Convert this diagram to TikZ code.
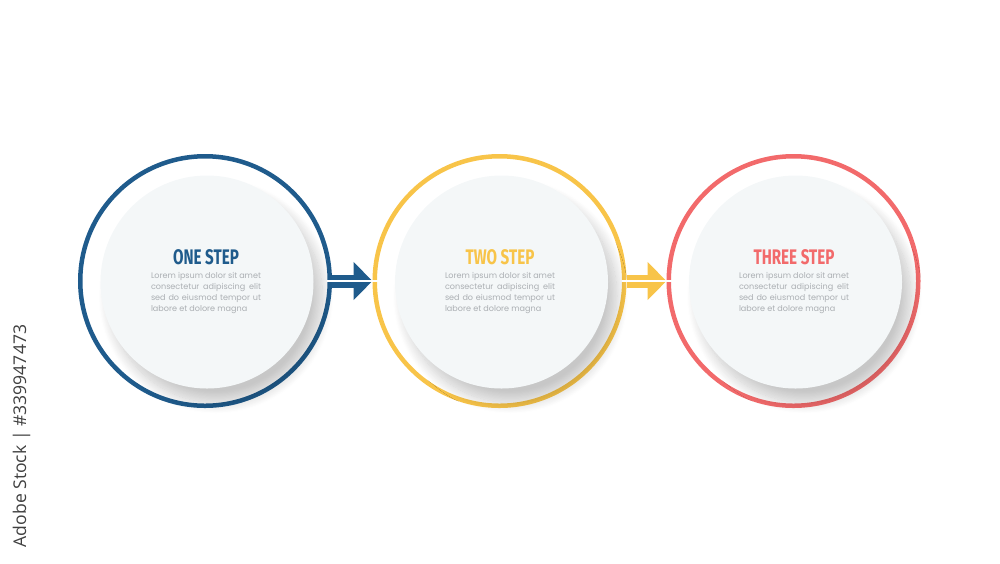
\documentclass[tikz,border=0pt]{standalone}
\usepackage{fontspec}
\setmainfont{Poppins}
\newfontfamily\headfont[FakeStretch=0.72]{Fira Sans}
\newfontfamily\tagfont{Open Sans}
\usetikzlibrary{arrows.meta,shadows.blur}

\definecolor{stepblue}{HTML}{1F5B8C}
\definecolor{stepyellow}{HTML}{F8C449}
\definecolor{stepred}{HTML}{F26A6B}
\definecolor{discgray}{HTML}{F4F7F8}
\definecolor{loremgray}{HTML}{ABAFB3}

\newcommand{\loremlines}{%
  \makebox[22mm][s]{Lorem ipsum dolor sit amet}\\
  \makebox[22mm][s]{consectetur adipiscing elit}\\
  \makebox[22mm][s]{sed do eiusmod tempor ut}\\
  labore et dolore magna}

\begin{document}
\begin{tikzpicture}[x=0.2mm,y=-0.2mm,
    ring/.style={circle, draw=#1, line width=0.9mm, minimum size=49.9mm, inner sep=0pt},
    disc/.style={circle, fill=discgray, minimum size=42.6mm, inner sep=0pt,
      blur shadow={shadow xshift=1.8mm, shadow yshift=-2.8mm, shadow blur radius=2.2mm,
        shadow blur steps=20, shadow opacity=22}},
    title/.style={text=#1, font=\headfont\bfseries\fontsize{12}{14}\selectfont},
    lorem/.style={text=loremgray, align=left, font=\fontsize{4.6}{6.1}\selectfont},
    link/.style={draw=#1, line width=2.6mm, -{Triangle[length=3.8mm,width=7.4mm,fill=#1]}},
    split/.style={draw=white, line width=0.28mm}]
  \useasboundingbox (0,0) rectangle (1000,563);

  % outer rings
  \node[ring=stepblue] (ring1) at (205,281) {};
  \node[ring=stepyellow] (ring2) at (499.5,281) {};
  \node[ring=stepred] (ring3) at (793.5,281) {};

  % inner discs with their shadows
  \node[disc] (disc1) at (207,282) {};
  \node[disc] (disc2) at (501.5,282) {};
  \node[disc] (disc3) at (795.5,282) {};

  % arrows between the rings
  \draw[link=stepblue] (ring1.east) -- (ring2.west);
  \draw[link=stepyellow] (ring2.east) -- (ring3.west);
  \draw[split] ([xshift=-1mm]ring1.east) -- ([xshift=1mm]ring2.west);
  \draw[split] ([xshift=-1mm]ring2.east) -- ([xshift=1mm]ring3.west);

  % texts
  \node[title=stepblue] (title1) at (206,257.5) {ONE STEP};
  \node[title=stepyellow] (title2) at (500,257.5) {TWO STEP};
  \node[title=stepred] (title3) at (794,257.5) {THREE STEP};
  \node[lorem] (lorem1) at (206,293) {\loremlines};
  \node[lorem] (lorem2) at (500,293) {\loremlines};
  \node[lorem] (lorem3) at (794,293) {\loremlines};

  \node[rotate=90, text=black!75, font=\tagfont\fontsize{10}{12}\selectfont] (tag) at (21.5,436) {Adobe Stock | \#339947473};
\end{tikzpicture}
\end{document}
